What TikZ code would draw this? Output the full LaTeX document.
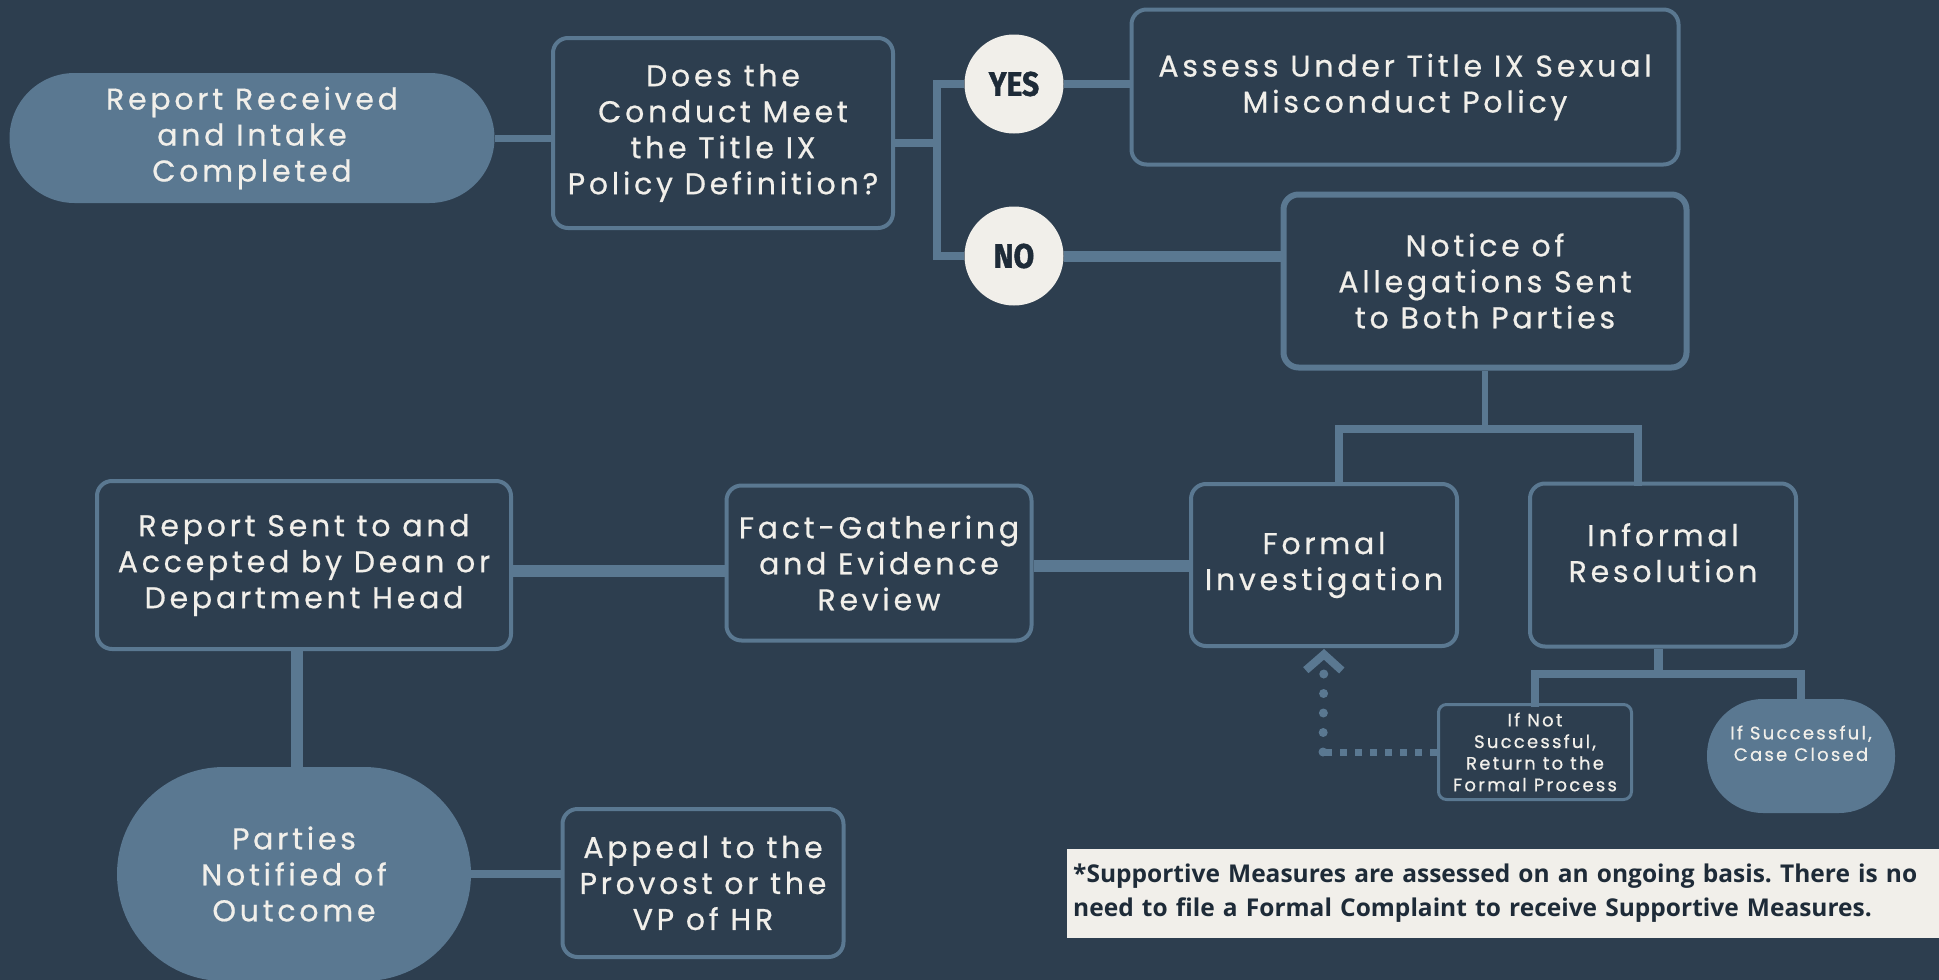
\documentclass[tikz,border=0pt]{standalone}
\usepackage{fontspec}
\usepackage{tikz}
\usetikzlibrary{arrows.meta}
\setmainfont{Poppins}[LetterSpace=12.5, FakeBold=0.6]
\newfontfamily\notefont{Open Sans}
\newfontfamily\tagfont{Fira Sans}[FakeStretch=0.88, FakeBold=1.2]
\definecolor{bgblue}{HTML}{2D3E4F}
\definecolor{steel}{HTML}{5A7891}
\definecolor{chalk}{HTML}{F1EFEA}
\definecolor{ink}{HTML}{1E2B38}

\begin{document}
\frenchspacing
\begin{tikzpicture}[x=1pt,y=-1pt]
\tikzstyle{mybox} = [draw=steel, line width=4pt, fill=bgblue, rounded corners=15pt, text=chalk, align=center, inner sep=0pt, font=\fontsize{30}{36}\selectfont]
\tikzstyle{mypill} = [fill=steel, text=chalk, align=center, inner sep=0pt, font=\fontsize{30}{36}\selectfont]
\tikzstyle{mytag} = [circle, fill=chalk, text=ink, minimum size=99pt, inner sep=0pt, font=\tagfont\bfseries\fontsize{34}{36}\selectfont]
\tikzset{myline/.style={draw=steel, line width=8pt}, small/.style={font=\fontsize{18}{21.6}\selectfont}}
\fill[bgblue] (0,0) rectangle (1939,980);
\useasboundingbox (0,0) rectangle (1939,980);

\node [mypill, rounded corners=65pt, minimum width=485pt, minimum height=130pt] (recv) at (252,138) {Report Received\\and Intake\\Completed};
\node [mybox, minimum width=340pt, minimum height=190pt] (does) at (723,133) {Does the\\Conduct Meet\\the Title IX\\Policy Definition?};
\node [mytag] (yes) at (1014,84) {YES};
\node [mytag] (no) at (1014,256) {NO};
\node [mybox, minimum width=547pt, minimum height=155pt] (assess) at (1405,87) {Assess Under Title IX Sexual\\Misconduct Policy};
\node [mybox, line width=6pt, minimum width=403pt, minimum height=173pt] (notice) at (1485,281) {Notice of\\Allegations Sent\\to Both Parties};
\node [mybox, minimum width=266pt, minimum height=162pt] (formal) at (1324,565) {Formal\\Investigation};
\node [mybox, minimum width=266pt, minimum height=163pt] (informal) at (1663,565) {Informal\\Resolution\\[-22pt]\strut};
\node [mybox, small, line width=3pt, rounded corners=8pt, minimum width=193pt, minimum height=95pt] (ifnot) at (1535,752) {If Not\\Successful,\\Return to the\\Formal Process};
\node [mypill, small, rounded corners=56pt, minimum width=188pt, minimum height=114pt] (ifok) at (1801,756) {If Successful,\\Case Closed\\[4pt]};
\node [mybox, minimum width=305pt, minimum height=155pt] (fact) at (879,563) {Fact-Gathering\\and Evidence\\Review};
\node [mybox, minimum width=414pt, minimum height=168pt] (sent) at (304,565) {Report Sent to and\\Accepted by Dean or\\Department Head};
\node [mypill, rounded corners=107pt, minimum width=354pt, minimum height=214pt] (parties) at (294,874) {Parties\\Notified of\\Outcome};
\node [mybox, minimum width=281pt, minimum height=148pt] (appeal) at (703,883) {Appeal to the\\Provost or the\\VP of HR};
\node [fill=chalk, text=ink, anchor=west, minimum width=872pt, minimum height=89pt, inner xsep=6pt, text width=860pt, align=left, font=\notefont\bfseries\fontsize{24.5}{34}\selectfont] (note) at (1067,893) {*Supportive Measures are assessed on an ongoing basis. There is no\\need to file a Formal Complaint to receive Supportive Measures.};

\coordinate (split) at (937,143);
\coordinate (fork) at (1486,429);
\coordinate (fork2) at (1658,674);
\coordinate (bend) at (1323,752);

\draw [myline, line width=7pt] (recv.east) -- (recv.east -| does.west);
\draw [myline] (does.east |- split) -- (split);
\draw [myline] (yes.west) -| (split) |- (no.west);
\draw [myline] (yes.east) -- (yes.east -| assess.west);
\draw [myline, line width=11pt] (no.east) -- (no.east -| notice.west);
\draw [myline, line width=6pt] (notice.south) -- (notice.south |- fork);
\draw [myline, line cap=rect] ([xshift=15pt]formal.north) |- (fork) -| ([xshift=-25pt]informal.north);
\draw [myline, line width=9pt] ([xshift=-5pt]informal.south) -- ([xshift=-5pt]informal.south |- fork2);
\draw [myline, line cap=rect] (ifnot.north) |- (fork2) -| (ifok.north);
\draw [draw=steel, line width=7pt, dash pattern=on 7pt off 8pt] (ifnot.west) -- (bend);
\draw [draw=steel, line width=9pt, line cap=round, dash pattern=on 0pt off 19.5pt, -{Straight Barb[length=16pt, width=36pt, line width=8pt]}] (bend) -- ([yshift=-1pt]formal.south);
\draw [myline, line width=12pt] ([yshift=-6pt]sent.east) -- ([yshift=-6pt]sent.east -| fact.west);
\draw [myline, line width=12pt] ([yshift=-3pt]fact.east) -- ([yshift=-3pt]fact.east -| formal.west);
\draw [myline, line width=12pt] ([xshift=3pt]parties.north) -- ([xshift=3pt]parties.north |- sent.south);
\draw [myline] (parties.east) -- (parties.east -| appeal.west);
\end{tikzpicture}
\end{document}
